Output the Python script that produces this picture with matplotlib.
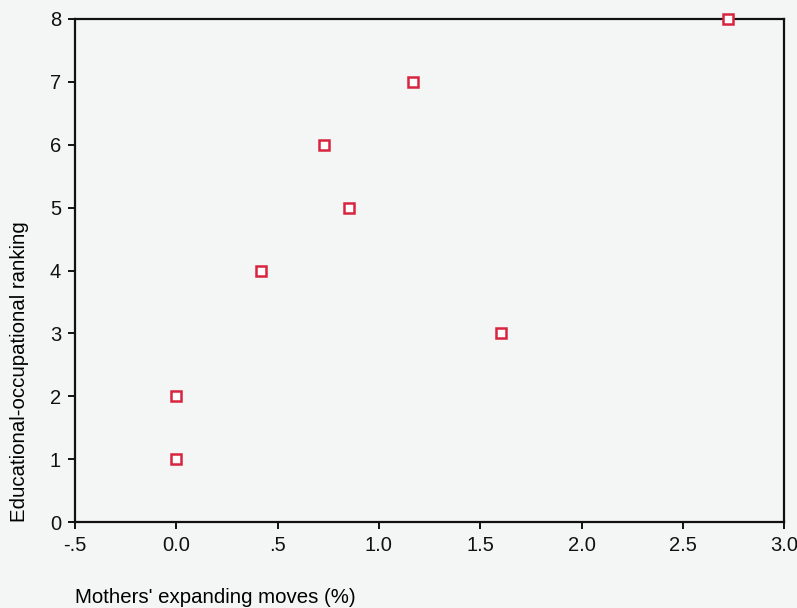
import matplotlib.pyplot as plt

# Mothers' expanding moves vs educational-occupational ranking
expanding_moves = [0.0, 0.0, 1.60, 0.42, 0.85, 0.73, 1.17, 2.72]
ranking = [1, 2, 3, 4, 5, 6, 7, 8]

x_ticks = [-0.5, 0.0, 0.5, 1.0, 1.5, 2.0, 2.5, 3.0]
x_tick_labels = ['-.5', '0.0', '.5', '1.0', '1.5', '2.0', '2.5', '3.0']
y_ticks = [0, 1, 2, 3, 4, 5, 6, 7, 8]

plt.rcParams['font.family'] = ['Liberation Sans', 'DejaVu Sans']

bg = '#f4f6f5'
fig = plt.figure(figsize=(7.97, 6.08), dpi=100, facecolor=bg)
ax = fig.add_axes([0.094, 0.141, 0.890, 0.828], facecolor=bg)

ax.plot(expanding_moves, ranking, linestyle='none', marker='s', markersize=6.5,
        markerfacecolor='white', markeredgecolor='#d8243f', markeredgewidth=1.8,
        clip_on=False, zorder=5)

ax.set_xlim(-0.5, 3.0)
ax.set_ylim(0, 8)
ax.set_xticks(x_ticks)
ax.set_xticklabels(x_tick_labels)
ax.set_yticks(y_ticks)

for s in ax.spines.values():
    s.set_linewidth(1.6)
    s.set_color('#111111')

ax.tick_params(direction='out', length=5, width=1.4, labelsize=14.5, colors='#111111', pad=5)

ax.set_xlabel("Mothers' expanding moves (%)", fontsize=14.7, loc='left', va='center')
ax.xaxis.set_label_coords(0.0, -0.149)
ax.set_ylabel('Educational-occupational ranking', fontsize=14.7, loc='bottom', va='center')
ax.yaxis.set_label_coords(-0.078, 0.0)

fig.savefig('out.png', dpi=100, facecolor=bg)
